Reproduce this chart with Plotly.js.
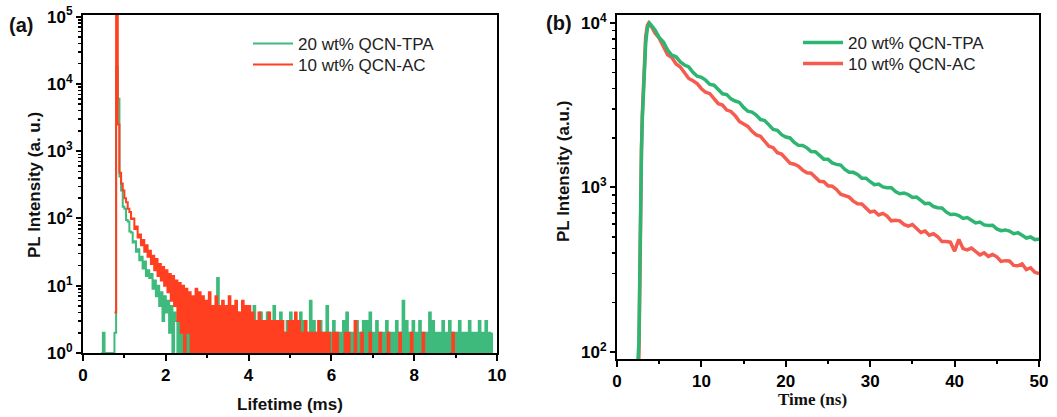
<!DOCTYPE html>
<html>
<head>
<meta charset="utf-8">
<script src="https://cdn.plot.ly/plotly-3.0.1.min.js"></script>
<style>html,body{margin:0;padding:0;background:#fff;}#chart{width:1057px;height:417px;}</style>
</head>
<body>
<div id="chart"></div>
<script>
// ---------- Panel (a): PL decay, counts per 0.04 ms bin (null = empty bin) ----------
const lifetimeStep = 0.04; // ms per bin
const greenLifetimeCounts = [
null,null,null,null,null,null,null,null,null,null,
null,1,2,1,1,1,1,1,1,2,
18000,6000,420,260,150,140,95,90,64,62,
44,46,32,35,24,27,18,23,14,17,
13,15,9,12,7,10,5,8,3,7,
4,6,2,5,1,4,3,1,3,1,
3,1,3,1,2,1,3,1,4,1,
3,1,2,1,4,1,3,1,2,1,
3,13,1,3,1,4,1,3,1,5,
1,3,1,4,1,2,1,3,1,4,
1,3,1,5,1,2,1,4,1,3,
1,4,1,3,1,5,1,3,1,4,
1,2,1,3,1,4,1,3,1,2,
1,4,1,3,1,2,1,6,1,3,
1,2,1,3,1,2,1,5,1,2,
1,3,1,2,1,2,1,3,1,4,
1,2,1,2,1,3,1,2,1,3,
1,3,1,4,1,2,1,3,1,2,
1,2,1,3,1,2,1,2,1,3,
1,2,1,6,1,3,1,2,1,3,
1,2,1,3,1,2,1,2,1,4,
1,3,1,2,1,2,1,3,1,2,
1,3,1,2,1,2,1,3,1,2,
1,2,1,3,1,2,1,2,1,3,
1,2,1,3,1,2,1,2,null,null
];
const redLifetimeCounts = [
null,null,null,null,null,null,null,null,null,null,
null,null,null,null,null,null,null,null,null,4,
150000,2500,480,330,260,200,175,140,125,98,
100,70,76,52,58,40,48,32,40,27,
33,21,28,17,25,14,21,12,19,10,
17,8,15,6,14,5,12,3,11,2,
10,1,9,2,8,1,7,1,9,1,
8,1,7,1,6,1,8,1,5,1,
7,1,5,1,6,1,5,1,7,1,
5,1,6,1,4,1,6,1,5,1,
5,1,4,1,3,1,4,1,3,1,
3,1,4,1,3,1,3,1,3,1,
3,1,2,1,3,1,3,1,4,1,
3,1,2,1,3,1,2,1,2,1,
2,1,3,1,2,1,2,1,2,1,
1,2,1,2,1,null,null,1,2,1,
2,1,null,1,3,1,null,1,2,1,
null,null,1,2,1,null,null,null,1,2,
1,null,null,1,2,1,null,null,null,null,
1,2,1,null,null,null,null,1,2,1,
null,null,null,null,1,2,1,null,null,null,
null,null,null,null,null,null,null,null,null,null,
null,null,1,2,1,null,null,null,null,null,
null,null,null,null,null,null,null,null,null,null,
null,null,null,null,null,null,null,null,null,null
];

// ---------- Panel (b): PL decay in ns ----------
const greenRiseTime = [2.3,2.5,2.6,2.7,2.8,2.9,3.0,3.2,3.4,3.6,3.85,4.0];
const greenRiseValues = [60,85,115,300,1000,1700,2600,5000,7600,9300,10000,9800];
const redRiseTime = [2.4,2.6,2.7,2.8,2.9,3.0,3.2,3.4,3.6,3.75,4.0];
const redRiseValues = [60,95,250,900,1700,2800,5600,8300,9700,10000,9700];
const tailStart = 4.5, tailStep = 0.5; // tail sampled every 0.5 ns up to 50 ns
const greenTailValues = [
9085,8177,7676,6855,6370,6232,5801,5560,5416,5019,4753,4676,
4495,4232,4190,3945,3714,3676,3460,3357,3290,3069,
2910,2874,2755,2589,2556,2402,2256,2229,2094,2028,
2002,1882,1804,1800,1743,1654,1650,1567,1487,1484,
1411,1382,1368,1288,1237,1236,1199,1140,1139,1084,
1040,1049,1008,997,996,946,917,926,907,870,
874,835,798,802,766,754,750,710,685,688,
675,649,657,632,609,616,592,587,589,560,
546,552,543,524,531,512,493,500,482,484
];
const redTailValues = [
8692,8102,7211,6415,6164,5632,5409,4992,4603,4462,4282,3987,
3794,3719,3469,3235,3172,2958,2900,2732,2523,2449,
2353,2195,2088,2047,1910,1781,1746,1629,1596,1504,
1407,1385,1348,1275,1230,1221,1154,1091,1085,1025,
1019,973,910,897,874,826,797,793,749,709,
718,681,696,671,627,632,627,596,582,595,
563,533,543,513,523,502,469,470,465,410,
483,425,417,428,408,389,400,381,391,379,
355,359,357,336,334,343,317,325,305,299
];

// ---------- Labels ----------
const legendNames = ["20 wt% QCN-TPA", "10 wt% QCN-AC"];
const leftMajorY = [1,10,100,1000,10000,100000];
const leftMajorYText = ["10<sup>0</sup>","10<sup>1</sup>","10<sup>2</sup>","10<sup>3</sup>","10<sup>4</sup>","10<sup>5</sup>"];
const rightMajorY = [100,1000,10000];
const rightMajorYText = ["10<sup>2</sup>","10<sup>3</sup>","10<sup>4</sup>"];

// ---------- build x grids ----------
const lifetimeAxis = greenLifetimeCounts.map((_, i) => +(i * lifetimeStep).toFixed(2));
const tailTime = greenTailValues.map((_, i) => +(tailStart + i * tailStep).toFixed(2));

function minorVals(lo, hi) {
  const out = [];
  for (let d = lo; d < hi; d *= 10) for (let m = 2; m <= 9; m++) out.push(m * d);
  return out;
}

const W = 1057, H = 417;
const fx = p => p / W, fy = p => 1 - p / H;

const green1 = '#3dba7c', red1 = '#ff3f1f';
const green2 = '#2eb571', red2 = '#f65b50';

const traces = [
  {x: lifetimeAxis, y: greenLifetimeCounts, type:'scatter', mode:'lines', name: legendNames[0],
   line:{color:green1, width:2, shape:'hv'}, xaxis:'x', yaxis:'y', legend:'legend'},
  {x: lifetimeAxis, y: redLifetimeCounts, type:'scatter', mode:'lines', name: legendNames[1],
   line:{color:red1, width:2, shape:'hv'}, xaxis:'x', yaxis:'y', legend:'legend3'},
  {x: redRiseTime.concat(tailTime), y: redRiseValues.concat(redTailValues), type:'scatter', mode:'lines',
   name: legendNames[1], line:{color:red2, width:3.5}, xaxis:'x2', yaxis:'y2', legend:'legend4'},
  {x: greenRiseTime.concat(tailTime), y: greenRiseValues.concat(greenTailValues), type:'scatter', mode:'lines',
   name: legendNames[0], line:{color:green2, width:3.5}, xaxis:'x2', yaxis:'y2', legend:'legend2'}
];

const tickFont = {family:'Liberation Sans, Arial, sans-serif', size:17, color:'#000', weight:'bold'};
const axisCommon = {
  showline:true, linecolor:'#000', linewidth:2, mirror:true, showgrid:false, zeroline:false,
  ticks:'outside', ticklen:6, tickwidth:2, tickcolor:'#000', tickfont:tickFont
};
const legendFont = {family:'Liberation Sans, Arial, sans-serif', size:17, color:'#222'};
function legendAt(px, py, w) {
  return {x:fx(px), y:fy(py), xanchor:'left', yanchor:'top', bgcolor:'rgba(0,0,0,0)', borderwidth:0,
          font:legendFont, itemwidth:w};
}

const layout = {
  width:W, height:H, margin:{l:0,r:0,t:0,b:0},
  paper_bgcolor:'#fff', plot_bgcolor:'#fff', showlegend:true,
  xaxis: Object.assign({}, axisCommon, {domain:[fx(83), fx(497)], range:[0,10], dtick:2, tick0:0,
    minor:{ticks:'outside', ticklen:3, tickwidth:2, tickcolor:'#000', dtick:1, tick0:0}, anchor:'y'}),
  yaxis: Object.assign({}, axisCommon, {domain:[fy(353), fy(15)], type:'log', range:[0,5.025],
    tickmode:'array', tickvals:leftMajorY, ticktext:leftMajorYText, ticklen:5,
    minor:{ticks:'outside', ticklen:3, tickwidth:1.5, tickcolor:'#000', tickmode:'array', tickvals:minorVals(1,100000)}, anchor:'x'}),
  xaxis2: Object.assign({}, axisCommon, {domain:[fx(617), fx(1039)], range:[0,50], dtick:10, tick0:0,
    minor:{ticks:'outside', ticklen:3, tickwidth:2, tickcolor:'#000', dtick:5, tick0:0}, anchor:'y2'}),
  yaxis2: Object.assign({}, axisCommon, {domain:[fy(359), fy(15)], type:'log', range:[1.957,4.049],
    tickmode:'array', tickvals:rightMajorY, ticktext:rightMajorYText, ticklen:5,
    minor:{ticks:'outside', ticklen:3, tickwidth:1.5, tickcolor:'#000', tickmode:'array', tickvals:minorVals(100,10000)}, anchor:'x2'}),
  legend: legendAt(248, 26, 40),
  legend3: legendAt(248, 47, 40),
  legend2: legendAt(798, 25, 40),
  legend4: legendAt(798, 46, 40),
  annotations: [
    {text:'(a)', x:fx(7), y:fy(25), xref:'paper', yref:'paper', xanchor:'left', yanchor:'middle', showarrow:false,
     font:{family:'Liberation Sans, Arial, sans-serif', size:20, color:'#111', weight:'bold'}},
    {text:'(b)', x:fx(544), y:fy(23), xref:'paper', yref:'paper', xanchor:'left', yanchor:'middle', showarrow:false,
     font:{family:'Liberation Sans, Arial, sans-serif', size:20, color:'#111', weight:'bold'}},
    {text:'Lifetime (ms)', x:fx(290), y:fy(404), xref:'paper', yref:'paper', xanchor:'center', yanchor:'middle', showarrow:false,
     font:{family:'Liberation Sans, Arial, sans-serif', size:17, color:'#111', weight:'bold'}},
    {text:'Time (ns)', x:fx(812), y:fy(399), xref:'paper', yref:'paper', xanchor:'center', yanchor:'middle', showarrow:false,
     font:{family:'Liberation Serif, Times New Roman, serif', size:17, color:'#111', weight:'bold'}},
    {text:'PL Intensity (a. u.)', x:fx(34), y:fy(185), xref:'paper', yref:'paper', xanchor:'center', yanchor:'middle', showarrow:false, textangle:-90,
     font:{family:'Liberation Sans, Arial, sans-serif', size:17, color:'#111', weight:'bold'}},
    {text:'PL Intensity (a.u.)', x:fx(563), y:fy(172), xref:'paper', yref:'paper', xanchor:'center', yanchor:'middle', showarrow:false, textangle:-90,
     font:{family:'Liberation Sans, Arial, sans-serif', size:17, color:'#111', weight:'bold'}}
  ]
};

Plotly.newPlot('chart', traces, layout, {displayModeBar:false, staticPlot:true});
</script>
</body>
</html>
